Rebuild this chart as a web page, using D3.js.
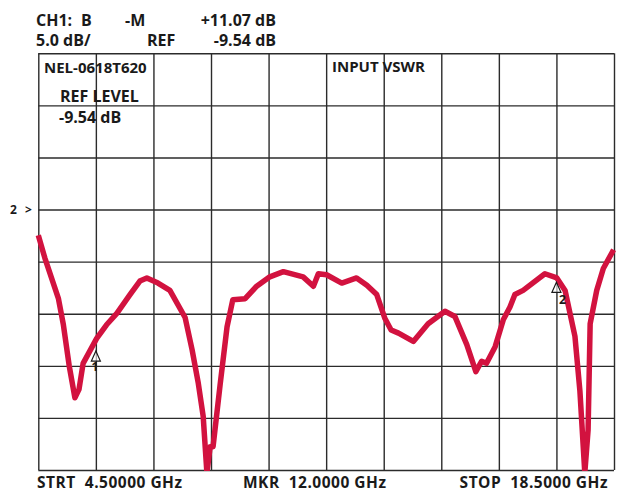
<!DOCTYPE html>
<html>
<head>
<meta charset="utf-8">
<script src="https://cdn.jsdelivr.net/npm/d3@7"></script>
<style>
  html, body { margin: 0; padding: 0; background: #fff; }
  svg { display: block; }
  text { font-family: "Open Sans", "Noto Sans", sans-serif; font-weight: 700; fill: #1a1a1a; white-space: pre; }
</style>
</head>
<body>
<svg id="chart" width="621" height="491"></svg>
<script>
// Sweep settings
const startGHz = 4.5;
const stopGHz = 18.5;
const refLevelDb = -9.54;
const dbPerDiv = 5;
const refDiv = 3;          // reference line sits 3 divisions below the top
const xDivs = 10;
const yDivs = 8;

// Measured return-loss trace: frequency (GHz) and level (dB)
const freqGHz = [4.50, 4.66, 4.99, 5.11, 5.25, 5.39, 5.49, 5.59, 5.92, 6.16, 6.41, 6.73, 6.97, 7.14, 7.41, 7.70,
  8.07, 8.24, 8.39, 8.51, 8.60, 8.68, 8.75, 8.92, 9.09, 9.23, 9.53, 9.81, 10.13, 10.46, 10.94, 11.19,
  11.31, 11.51, 11.88, 12.24, 12.49, 12.73, 12.93, 13.08, 13.26, 13.62, 13.98, 14.39, 14.63, 14.92, 15.14,
  15.28, 15.40, 15.61, 15.81, 15.97, 16.09, 16.29, 16.82, 17.11, 17.31, 17.55, 17.67, 17.79, 17.87, 17.92,
  18.08, 18.24, 18.49];
const levelDb = [-12.0, -14.2, -18.1, -20.6, -24.5, -27.6, -26.8, -24.3, -21.9, -20.6, -19.5, -17.7, -16.4, -16.1, -16.6, -17.3,
  -19.9, -23.0, -26.2, -29.4, -34.8, -32.3, -32.3, -26.4, -20.8, -18.2, -18.1, -16.9, -16.0, -15.5, -16.0, -16.9,
  -15.7, -15.8, -16.6, -16.1, -16.8, -17.7, -20.0, -21.1, -21.4, -22.2, -20.5, -19.3, -19.8, -22.5, -25.1,
  -24.1, -24.3, -22.7, -20.1, -18.9, -17.7, -17.3, -15.7, -16.1, -17.3, -21.7, -26.9, -34.8, -30.7, -20.5,
  -17.3, -15.2, -13.4];

// Markers on the trace
const markerLabels = ["1", "2"];
const markerFreqGHz = [5.9, 17.1];
const markerDb = [-23.7, -17.1];

// Annotation text
const headerLine1 = [["CH1:", 36, "start"], ["B", 81, "start"], ["-M", 125, "start"], ["+11.07 dB", 276, "end"]];
const headerLine2 = [["5.0 dB/", 36, "start"], ["REF", 147, "start"], ["-9.54 dB", 276, "end"]];
const footerText = [["STRT  4.50000 GHz", 37, "start"], ["MKR  12.0000 GHz", 243, "start"], ["STOP  18.5000 GHz", 608, "end"]];

const svg = d3.select("#chart");
const plot = { left: 38.3, right: 614, top: 53.3, bottom: 470 };

const topDb = refLevelDb + refDiv * dbPerDiv;
const bottomDb = topDb - yDivs * dbPerDiv;

const x = d3.scaleLinear().domain([startGHz, stopGHz]).range([plot.left, plot.right]);
const y = d3.scaleLinear().domain([bottomDb, topDb]).range([plot.bottom, plot.top]);

const xTicks = d3.range(xDivs + 1).map(i => startGHz + i * (stopGHz - startGHz) / xDivs);
const yTicks = d3.range(yDivs + 1).map(i => bottomDb + i * dbPerDiv);

// Graticule
const gridColor = "#2b2b2b";
const gx = svg.append("g")
  .attr("transform", `translate(0,${plot.bottom})`)
  .call(d3.axisBottom(x).tickValues(xTicks).tickSize(-(plot.bottom - plot.top)).tickFormat(""));
const gy = svg.append("g")
  .attr("transform", `translate(${plot.left},0)`)
  .call(d3.axisLeft(y).tickValues(yTicks).tickSize(-(plot.right - plot.left)).tickFormat(""));
[gx, gy].forEach(g => {
  g.select(".domain").remove();
  g.selectAll(".tick line").attr("stroke", gridColor).attr("stroke-width", 1.4);
});

// Trace
const points = freqGHz.map((f, i) => [f, levelDb[i]]);
svg.append("clipPath").attr("id", "plotClip")
  .append("rect")
  .attr("x", 0).attr("y", plot.top - 10)
  .attr("width", 621).attr("height", plot.bottom - plot.top + 11);

const line = d3.line().x(d => x(d[0])).y(d => y(d[1])).curve(d3.curveLinear);
svg.append("path")
  .datum(points)
  .attr("clip-path", "url(#plotClip)")
  .attr("d", line)
  .attr("fill", "none")
  .attr("stroke", "#d2123f")
  .attr("stroke-width", 5.5)
  .attr("stroke-linejoin", "round")
  .attr("stroke-linecap", "butt");

// Marker triangles
markerLabels.forEach((lab, i) => {
  const mx = x(markerFreqGHz[i]);
  const my = y(markerDb[i]);
  svg.append("path")
    .attr("d", `M${mx},${my - 6} L${mx - 4.5},${my + 4} L${mx + 4.5},${my + 4} Z`)
    .attr("fill", "#fff")
    .attr("fill-opacity", 0.6)
    .attr("stroke", "#1a1a1a")
    .attr("stroke-width", 1.2);
  svg.append("text")
    .attr("x", i === 0 ? mx - 1 : mx + 6)
    .attr("y", i === 0 ? my + 14 : my + 16)
    .attr("text-anchor", "middle")
    .attr("font-size", 12)
    .text(lab);
});

// Reference position indicator
svg.append("text").attr("x", 10).attr("y", y(refLevelDb) + 4).attr("font-size", 12).text("2");
svg.append("text").attr("x", 25).attr("y", y(refLevelDb) + 4).attr("font-size", 12).text(">");

// Header and footer annotations
const header = svg.append("g").attr("font-size", 16);
headerLine1.forEach(([t, tx, a]) => header.append("text").attr("x", tx).attr("y", 26).attr("text-anchor", a).text(t));
headerLine2.forEach(([t, tx, a]) => header.append("text").attr("x", tx).attr("y", 46).attr("text-anchor", a).text(t));

const footer = svg.append("g").attr("font-size", 15.5).attr("letter-spacing", 0.5);
footerText.forEach(([t, tx, a]) => footer.append("text").attr("x", tx).attr("y", 487.5).attr("text-anchor", a).text(t));

// Labels inside the graticule
const inner = svg.append("g");
inner.append("text").attr("x", 44).attr("y", 73).attr("font-size", 15).text("NEL-0618T620");
inner.append("text").attr("x", 60).attr("y", 102).attr("font-size", 16).text("REF LEVEL");
inner.append("text").attr("x", 59).attr("y", 123).attr("font-size", 16).text("-9.54 dB");
inner.append("text").attr("x", 332).attr("y", 72).attr("font-size", 15).text("INPUT VSWR");
</script>
</body>
</html>
